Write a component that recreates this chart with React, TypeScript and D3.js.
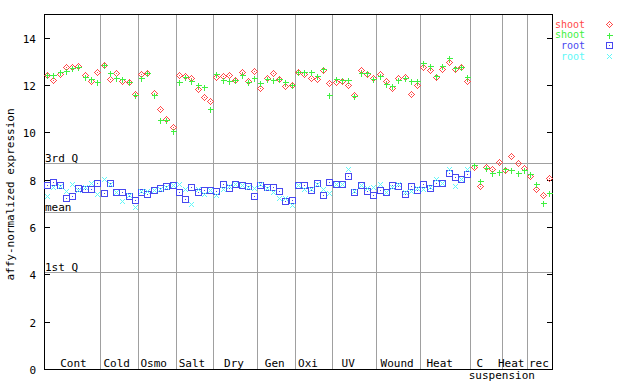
import React from "react";
import * as d3 from "d3";

const groups = ["Cont", "Cold", "Osmo", "Salt", "Dry", "Gen", "Oxi", "UV", "Wound", "Heat", "C", "Heat", "rec"];
const groupSizes = [9, 6, 6, 6, 7, 6, 6, 7, 7, 8, 5, 4, 4];
const groupLabelPos = [4.2, 11.1, 17.0, 23.1, 29.8, 36.3, 41.6, 48.0, 55.8, 62.6, 69.0, 74.0, 78.4];
const subLabel = { text: "suspension", pos: 72.5 };

const shoot1 = [
  12.43, 12.21, 12.47, 12.77, 12.77, 12.81, 12.42, 12.16, 12.54,
  12.85, 12.25, 12.52, 12.16, 12.12, 11.63,
  12.47, 12.5, 11.67, 10.98, 10.56, 10.23,
  12.43, 12.38, 12.31, 11.83, 11.49, 11.32,
  12.35, 12.39, 12.43, 12.22, 12.56, 12.18, 12.6,
  11.87, 12.31, 12.52, 12.25, 11.95, 12.0,
  12.54, 12.46, 12.29, 12.25, 12.64, 12.08,
  12.12, 12.16, 12.0, 11.57, 12.64, 12.46, 12.29,
  12.46, 12.18, 11.87, 12.29, 12.33, 11.63, 12.0,
  12.76, 12.63, 12.33, 12.67, 12.97, 12.67, 12.76, 12.16,
  8.53, 7.73, 8.53, 8.46, 8.74,
  8.4, 8.99, 8.7, 8.49,
  8.15, 7.6, 7.34, 8.06,
];
const shoot2 = [
  12.43, 12.42, 12.56, 12.6, 12.71, 12.77, 12.33, 12.25, 12.14,
  12.83, 12.52, 12.29, 12.25, 12.12, 11.59,
  12.29, 12.5, 11.59, 10.53, 10.53, 10.06,
  12.14, 12.35, 12.16, 12.0, 11.91, 10.98,
  12.47, 12.21, 12.16, 12.21, 12.42, 12.14, 12.29,
  12.08, 12.26, 12.21, 12.26, 12.12, 12.0,
  12.54, 12.54, 12.56, 12.38, 12.68, 11.57,
  12.25, 12.21, 12.21, 11.53, 12.5, 12.5, 12.25,
  12.38, 12.04, 11.95, 12.21, 12.29, 12.16, 12.16,
  12.93, 12.8, 12.36, 12.8, 13.14, 12.71, 12.76, 12.33,
  8.61, 7.94, 8.5, 8.27, 8.31,
  8.44, 8.4, 8.27, 8.4,
  8.23, 7.82, 7.0, 7.43,
];
const root1: (number | null)[] = [
  7.79, 7.89, 7.79, 7.22, 7.3, 7.65, 7.6, 7.6, 7.85,
  7.44, 7.84, 7.47, 7.47, 7.29, 7.13,
  7.47, 7.41, 7.57, 7.65, 7.72, 7.79,
  7.47, 7.17, 7.68, 7.47, 7.55, 7.55,
  7.51, 7.81, 7.64, 7.81, 7.77, 7.72, 7.3,
  7.77, 7.68, 7.68, 7.51, 7.09, 7.13,
  7.77, 7.77, 7.55, 7.85, 7.34, 7.89,
  7.81, 7.81, 8.16, 7.47, 7.77, 7.51, 7.34,
  7.55, 7.47, 7.77, 7.72, 7.39, 7.72, 7.55,
  7.81, 7.64, 7.85, 7.85, 8.27, 8.1, 8.02, 8.23,
  null, null, null, null, null, null, null, null, null, null, null, null, null,
];
const root2: (number | null)[] = [
  7.31, 7.71, 7.72, 7.51, 7.82, 7.55, 7.68, 7.86, 7.4,
  8.02, 7.81, 7.47, 7.1, 7.36, 6.84,
  7.51, 7.51, 7.57, 7.6, 7.68, 7.79,
  7.81, 7.6, 6.98, 7.6, 7.39, 7.55,
  7.34, 7.6, 7.72, 7.81, 7.77, 7.68, 7.64,
  7.81, 7.64, 7.47, 7.22, 7.22, 6.92,
  7.77, 7.62, 7.6, 7.81, 7.6, 7.43,
  7.81, 7.81, 8.46, 7.51, 7.77, 7.64, 7.68,
  7.81, 7.47, 7.68, 7.81, 7.47, 7.51, 7.64,
  7.6, 7.68, 8.02, 7.85, 8.44, 7.73, 8.02, 8.44,
  null, null, null, null, null, null, null, null, null, null, null, null, null,
];
const yTicks = [0, 2, 4, 6, 8, 10, 12, 14];
const refLines = [
  { label: "3rd Q", value: 8.7 },
  { label: "mean", value: 6.64 },
  { label: "1st Q", value: 4.09 },
];
const seriesNames = ["shoot", "shoot", "root", "root"];
const seriesColors = ["#ff4848", "#40f040", "#4848f0", "#60f8f8"];

const FONT = "'DejaVu Sans Mono', monospace";

function Marker({ kind, x, y, color }: { kind: number; x: number; y: number; color: string }) {
  const cx = Math.round(x) + 0.5;
  const cy = Math.round(y) + 0.5;
  if (kind === 0) {
    return (
      <g shapeRendering="crispEdges">
        <path d={`M${cx},${cy - 3}L${cx + 3},${cy}L${cx},${cy + 3}L${cx - 3},${cy}Z`} fill="none" stroke={color} strokeWidth={1} />
        <rect x={cx - 0.5} y={cy - 0.5} width={1} height={1} fill={color} />
      </g>
    );
  }
  if (kind === 1) {
    return (
      <path shapeRendering="crispEdges" d={`M${cx - 3},${cy}H${cx + 3}M${cx},${cy - 3}V${cy + 3}`} stroke={color} strokeWidth={1} fill="none" />
    );
  }
  if (kind === 2) {
    return (
      <g shapeRendering="crispEdges">
        <rect x={cx - 3} y={cy - 3} width={6} height={6} fill="none" stroke={color} strokeWidth={1} />
        <rect x={cx - 0.5} y={cy - 0.5} width={1} height={1} fill={color} />
      </g>
    );
  }
  return (
    <path shapeRendering="crispEdges" d={`M${cx - 2.5},${cy - 2.5}L${cx + 2.5},${cy + 2.5}M${cx - 2.5},${cy + 2.5}L${cx + 2.5},${cy - 2.5}`} stroke={color} strokeWidth={1} fill="none" />
  );
}

export default function App() {
  const W = 640, H = 384;
  const left = 44, right = 552, top = 14, bottom = 369;
  const n = shoot1.length;
  const x = d3.scaleLinear().domain([0, n]).range([left, right]);
  const y = d3.scaleLinear().domain([0, 15]).range([bottom, top]);
  const xc = (i: number) => x(i + 0.5);

  const bounds: number[] = [];
  let acc = 0;
  groupSizes.forEach((s, i) => {
    acc += s;
    if (i < groupSizes.length - 1) bounds.push(acc);
  });

  const allSeries = [shoot1, shoot2, root1, root2];

  return (
    <div style={{ position: "fixed", left: 0, top: 0, width: W, height: H, overflow: "hidden", background: "#fff" }}>
      <svg width={W} height={H} style={{ display: "block", background: "#fff" }}>
        {refLines.map((r) => (
          <g key={r.label}>
            <line x1={left} x2={right} y1={Math.round(y(r.value)) + 0.5} y2={Math.round(y(r.value)) + 0.5} stroke="#a0a0a0" strokeWidth={1} shapeRendering="crispEdges" />
            <text x={left + 1} y={Math.round(y(r.value)) - 1} fontFamily={FONT} fontSize={11} fill="#000">{r.label}</text>
          </g>
        ))}
        {bounds.map((b) => (
          <line key={b} x1={Math.round(x(b)) + 0.5} x2={Math.round(x(b)) + 0.5} y1={top} y2={bottom} stroke="#a0a0a0" strokeWidth={1} shapeRendering="crispEdges" />
        ))}
        <rect x={left + 0.5} y={top + 0.5} width={right - left} height={bottom - top} fill="none" stroke="#000" strokeWidth={1} shapeRendering="crispEdges" />
        {yTicks.map((t) => {
          const yy = Math.round(y(t)) + 0.5;
          return (
            <g key={t}>
              <line x1={left} x2={left + 6} y1={yy} y2={yy} stroke="#000" shapeRendering="crispEdges" />
              <line x1={right - 5} x2={right + 1} y1={yy} y2={yy} stroke="#000" shapeRendering="crispEdges" />
              <text x={36} y={yy + 4} textAnchor="end" fontFamily={FONT} fontSize={11} fill="#000">{t}</text>
            </g>
          );
        })}
        <text transform={`translate(14,${(top + bottom) / 2 + 3}) rotate(-90)`} textAnchor="middle" fontFamily={FONT} fontSize={11} fill="#000">affy-normalized expression</text>
        {groups.map((g, i) => (
          <text key={i} x={x(groupLabelPos[i] + 0.5)} y={367} textAnchor="middle" fontFamily={FONT} fontSize={11} fill="#000">{g}</text>
        ))}
        <text x={x(subLabel.pos + 0.5)} y={379} textAnchor="middle" fontFamily={FONT} fontSize={11} fill="#000">{subLabel.text}</text>
        {allSeries.map((s, k) => (
          <g key={k}>
            {s.map((v, i) => (v == null ? null : <Marker key={i} kind={k} x={xc(i)} y={y(v)} color={seriesColors[k]} />))}
          </g>
        ))}
        {seriesNames.map((nm, k) => (
          <g key={k}>
            <text x={585} y={27.5 + k * 10.7} textAnchor="end" fontFamily={FONT} fontSize={10} fill={seriesColors[k]}>{nm}</text>
            <Marker kind={k} x={609} y={24 + k * 10.7} color={seriesColors[k]} />
          </g>
        ))}
      </svg>
    </div>
  );
}
